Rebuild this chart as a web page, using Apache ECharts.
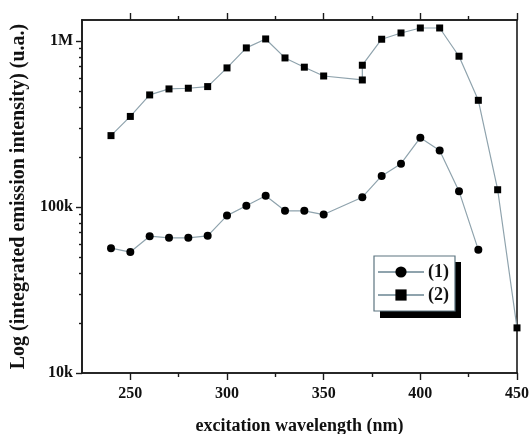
<!DOCTYPE html>
<html>
<head>
<meta charset="utf-8">
<script src="https://cdn.jsdelivr.net/npm/echarts@6/dist/echarts.min.js"></script>
<style>html,body{margin:0;padding:0;background:#fff}#c{width:531px;height:434px}</style>
</head>
<body>
<div id="c"></div>
<script>
// Data
var wavelengths1 = [240, 250, 260, 270, 280, 290, 300, 310, 320, 330, 340, 350, 370, 380, 390, 400, 410, 420, 430];
var intensity1 = [56500, 53500, 66700, 65200, 65200, 67000, 88700, 101800, 116700, 94800, 94800, 90000, 114500, 153800, 182400, 261600, 218500, 124500, 55200];
var wavelengths2 = [240, 250, 260, 270, 280, 290, 300, 310, 320, 330, 340, 350, 370, 370, 380, 390, 400, 410, 420, 430, 440, 450];
var intensity2 = [269000, 351000, 473000, 514000, 519000, 531000, 688000, 908000, 1028000, 790000, 695000, 615000, 582000, 714000, 1024000, 1117000, 1197000, 1197000, 809000, 439000, 127000, 18700];
var seriesNames = ['(1)', '(2)'];
var xMajorTicks = [250, 300, 350, 400, 450];
var xMinorTicks = [275, 325, 375, 425];
var yMajorTicks = [10000, 100000, 1000000];
var yTickLabels = ['10k', '100k', '1M'];
var yMinorTicks = [20000, 30000, 40000, 50000, 60000, 70000, 80000, 90000, 200000, 300000, 400000, 500000, 600000, 700000, 800000, 900000];

var xMin = 225, xMax = 450, yMin = 10000, yMax = 1337000;
var font = 'Liberation Serif';
var axisColor = '#1a1a1a';
var lineColor = '#8fa3ad';

function pairs(xs, ys) { return xs.map(function (x, i) { return [x, ys[i]]; }); }

function xAx(pos, ticks, len, labels, name) {
  return {
    type: 'value', position: pos, min: xMin, max: xMax,
    name: name || '', nameLocation: 'middle', nameGap: 44,
    nameTextStyle: { fontFamily: font, fontWeight: 'bold', fontSize: 18, color: '#111' },
    axisLine: { show: true, onZero: false, lineStyle: { color: axisColor, width: 1.6 } },
    axisTick: { show: true, inside: false, length: len, customValues: ticks, lineStyle: { color: axisColor, width: 1.4 } },
    axisLabel: labels ? { show: true, customValues: xMajorTicks, fontFamily: font, fontWeight: 'bold', fontSize: 16, color: '#111', margin: 13 } : { show: false },
    splitLine: { show: false }
  };
}
function yAx(pos, ticks, len, labels, name, showTicks) {
  return {
    type: 'log', logBase: 10, position: pos, min: yMin, max: yMax,
    name: name || '', nameLocation: 'middle', nameGap: 53,
    nameTextStyle: { fontFamily: font, fontWeight: 'bold', fontSize: 20, color: '#111' },
    axisLine: { show: true, onZero: false, lineStyle: { color: axisColor, width: 1.6 } },
    axisTick: { show: showTicks, inside: false, length: len, customValues: ticks, lineStyle: { color: axisColor, width: 1.4 } },
    axisLabel: labels ? {
      show: true, customValues: yMajorTicks, fontFamily: font, fontWeight: 'bold', fontSize: 16, color: '#111', margin: 9,
      formatter: function (v) { var i = yMajorTicks.indexOf(Math.round(v)); return i >= 0 ? yTickLabels[i] : ''; }
    } : { show: false },
    splitLine: { show: false }
  };
}

var chart = echarts.init(document.getElementById('c'), null, { renderer: 'canvas' });
chart.setOption({
  backgroundColor: '#ffffff',
  animation: false,
  grid: { left: 82, right: 14, top: 20, bottom: 61, containLabel: false, outerBoundsMode: 'none' },
  xAxis: [
    xAx('bottom', xMajorTicks, 7, true, 'excitation wavelength (nm)'),
    xAx('bottom', xMinorTicks, 4, false),
    xAx('top', xMajorTicks, 7, false),
    xAx('top', xMinorTicks, 4, false)
  ],
  yAxis: [
    yAx('left', yMajorTicks, 6, true, 'Log (integrated emission intensity) (u.a.)', true),
    yAx('left', yMinorTicks, 3, false, '', true),
    yAx('right', [], 0, false, '', false)
  ],
  graphic: [
    { type: 'rect', z: 1, silent: true, shape: { x: 380, y: 262, width: 81, height: 56 }, style: { fill: '#000000' } }
  ],
  legend: {
    show: true,
    z: 10,
    left: 374, top: 256,
    orient: 'vertical',
    itemWidth: 46, itemHeight: 14, itemGap: 5,
    padding: [7, 6, 7, 3],
    backgroundColor: '#ffffff',
    borderColor: '#5d7580', borderWidth: 1.2, borderRadius: 0,
    textStyle: { fontFamily: font, fontWeight: 'bold', fontSize: 18, color: '#111', padding: [0, 0, 0, -1] },
    data: seriesNames
  },
  series: [
    {
      name: seriesNames[0], type: 'line', xAxisIndex: 0, yAxisIndex: 0,
      data: pairs(wavelengths1, intensity1),
      symbol: 'circle', symbolSize: 8,
      lineStyle: { color: lineColor, width: 1.2 },
      itemStyle: { color: '#000000' }
    },
    {
      name: seriesNames[1], type: 'line', xAxisIndex: 0, yAxisIndex: 0,
      data: pairs(wavelengths2, intensity2),
      symbol: 'rect', symbolSize: 7,
      lineStyle: { color: lineColor, width: 1.2 },
      itemStyle: { color: '#000000' }
    }
  ]
});
</script>
</body>
</html>
